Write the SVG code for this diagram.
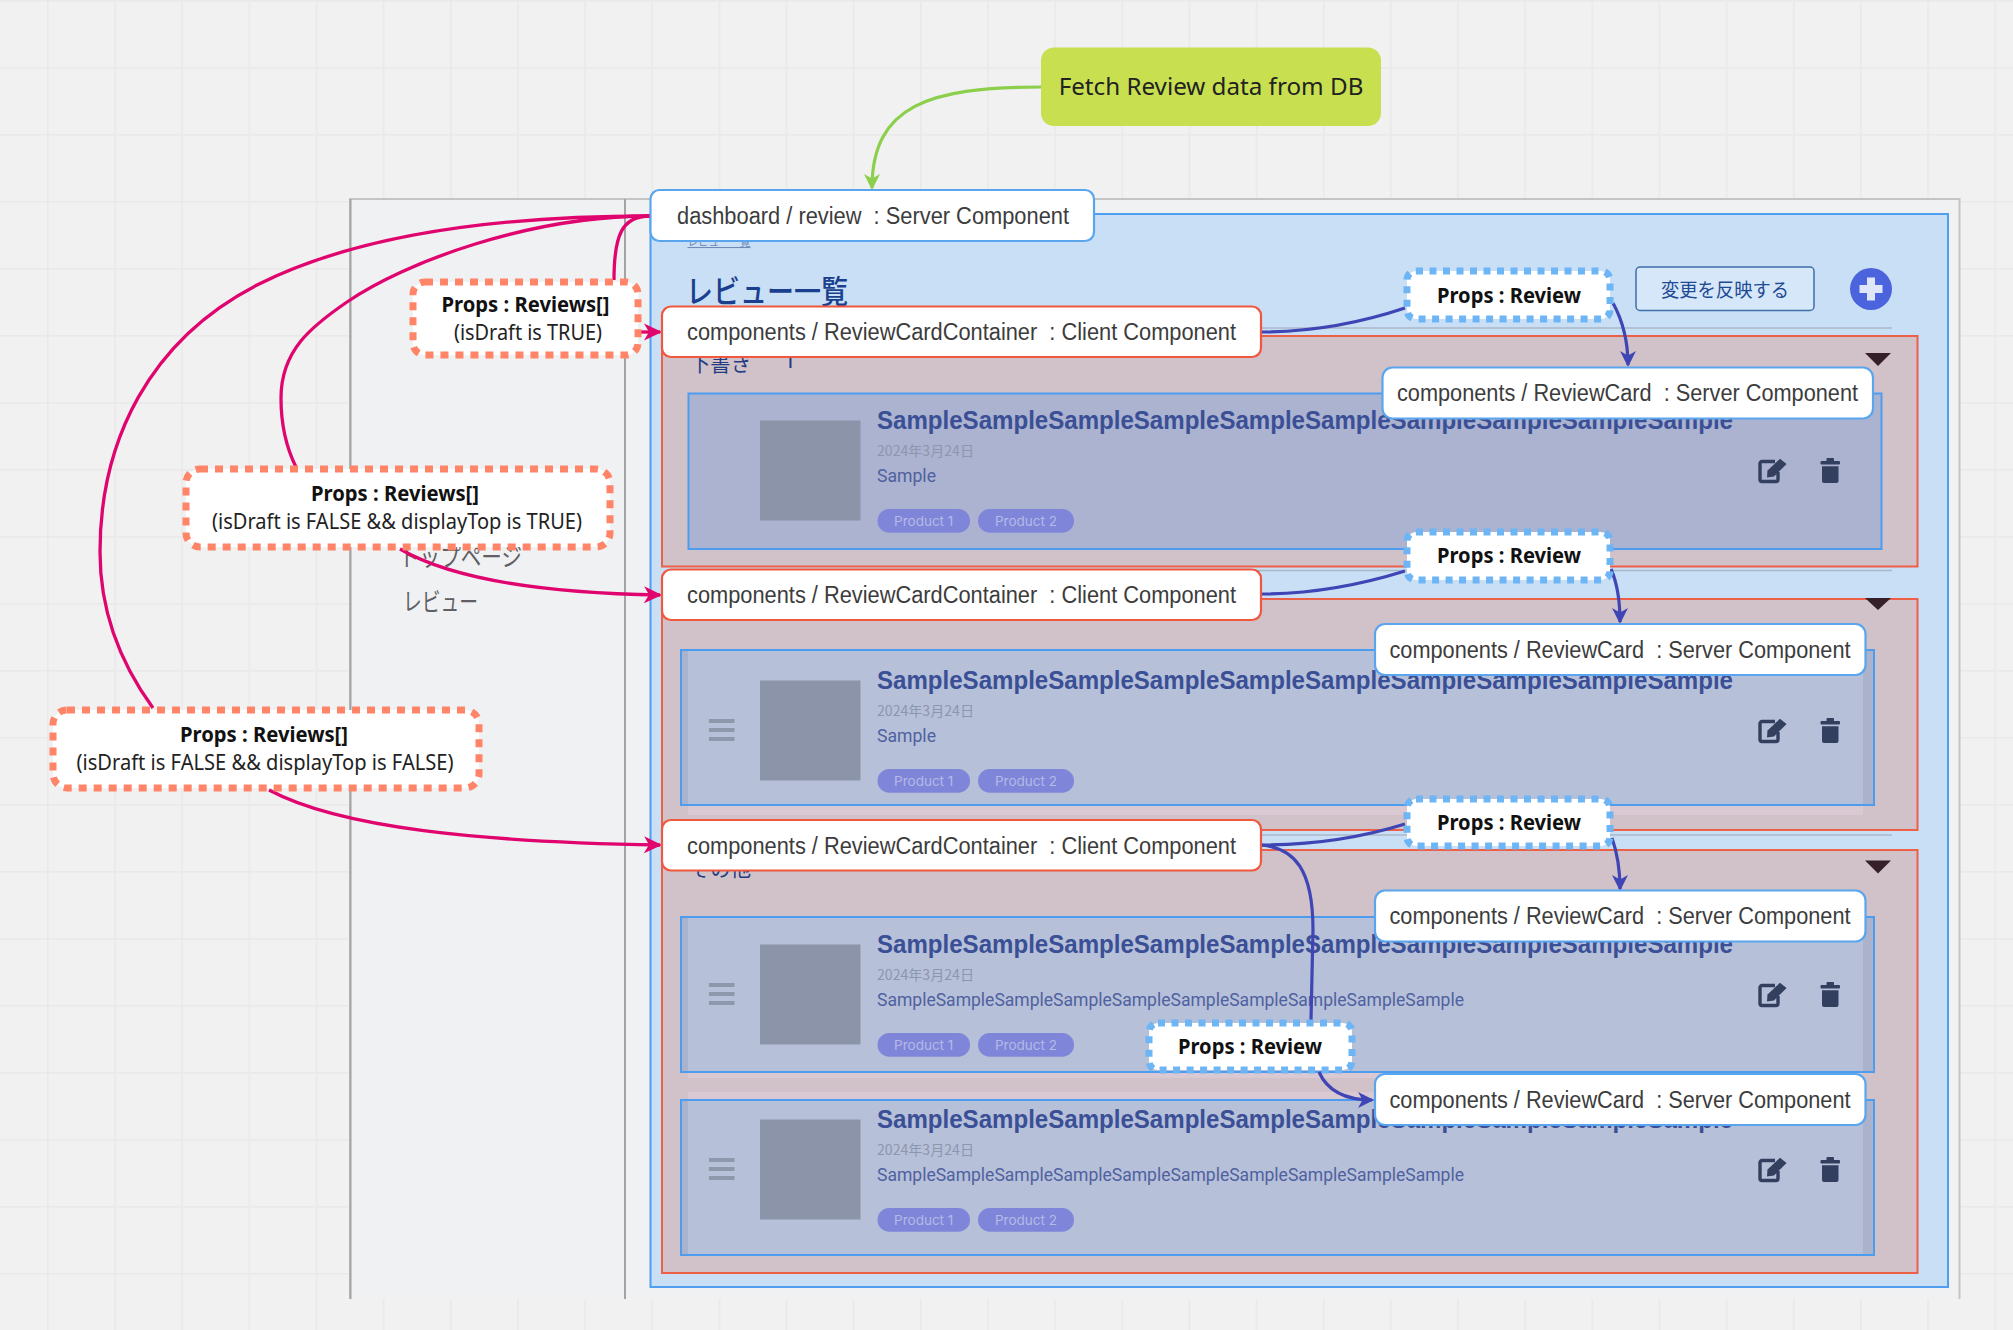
<svg xmlns="http://www.w3.org/2000/svg" width="2013" height="1330" viewBox="0 0 2013 1330">
<style>
text{white-space:pre}
.lab{font-family:"Liberation Sans",Arial,sans-serif;font-size:23px;fill:#3c3c3c;dominant-baseline:central}
.note{font-family:"Noto Sans",sans-serif;font-size:21px;fill:#222;text-anchor:middle}
.b{font-weight:700;fill:#111}
.jp{font-family:"Noto Sans CJK JP",sans-serif}
.sec{fill:#d1c1c9;stroke:#ee5f48;stroke-width:2}
.card{fill:#b6c0d9;stroke:#4c9df0;stroke-width:2}
.shadow{fill:#dac9d2}
.strip{fill:#aab3cb}
.thumb{fill:#8b94a8}
.title{font-family:"Liberation Sans",Arial,sans-serif;font-weight:700;font-size:25px;fill:#3a4f95}
.date{font-family:"Noto Sans CJK JP",sans-serif;font-size:14px;fill:#8d96ad}
.body{font-family:"Roboto",sans-serif;font-size:18px;fill:#5061a0}
.pill{fill:#7f86da}
.ptxt{font-family:"Inter",sans-serif;font-size:13.5px;fill:#b4b9e6;text-anchor:middle}
.ham{fill:#8e97ab}
.ico{fill:#333f5e}
.tri{fill:#35202a}
.box-b{fill:#fff;stroke:#5aa5ee;stroke-width:2.2}
.box-r{fill:#fff;stroke:#f0573c;stroke-width:2.2}
.dash-b{fill:#fff;stroke:#6db5f5;stroke-width:7;stroke-dasharray:7 6.5}
.dash-o{fill:#fff;stroke:#ff8468;stroke-width:7;stroke-dasharray:8 7}
.head{font-family:"Noto Sans CJK JP",sans-serif;fill:#1f3d80;font-size:22px}
.div{stroke:#aab8c8;stroke-width:1.5}
.pk{fill:none;stroke:#e0056e;stroke-width:3.3}
.bl{fill:none;stroke:#3f45b5;stroke-width:3.2}
.gr{fill:none;stroke:#8ccf4c;stroke-width:3.2}
</style>
<defs>
<pattern id="grid" patternUnits="userSpaceOnUse" x="47" y="0" width="67.15" height="67">
<rect x="0" y="0" width="1.6" height="67" fill="#e9e9ea"/>
<rect x="0" y="0" width="67.15" height="1.6" fill="#e9e9ea"/>
</pattern>
<marker id="ap" markerUnits="userSpaceOnUse" markerWidth="20" markerHeight="20" refX="16" refY="10" orient="auto"><path d="M0,1.5 L18,10 L0,18.5 L5,10Z" fill="#e0056e"/></marker>
<marker id="ab" markerUnits="userSpaceOnUse" markerWidth="20" markerHeight="20" refX="14" refY="10" orient="auto"><path d="M0,2 L16,10 L0,18 L4.5,10Z" fill="#3f45b5"/></marker>
<marker id="ag" markerUnits="userSpaceOnUse" markerWidth="20" markerHeight="20" refX="14" refY="10" orient="auto"><path d="M0,2 L16,10 L0,18 L4.5,10Z" fill="#8ccf4c"/></marker>
<g id="edit"><path d="M17 3.5H4a2 2 0 0 0-2 2V21.5a2 2 0 0 0 2 2H18a2 2 0 0 0 2-2V14" fill="none" stroke="#333f5e" stroke-width="3.4"/><path d="M9.5 12.5L22 0.8L28.6 6L16 18.5L9 19.6Z" fill="#333f5e"/></g>
<g id="trash"><rect x="0" y="3" width="19.5" height="3.6" rx="1" class="ico"/><rect x="6" y="0" width="7.5" height="4" rx="1" class="ico"/><path d="M1.5 8.2H18V23a2 2 0 0 1-2 2H3.5a2 2 0 0 1-2-2Z" class="ico"/></g>
<g id="burger"><rect x="709" y="719" width="25.5" height="4" class="ham"/><rect x="709" y="728" width="25.5" height="4" class="ham"/><rect x="709" y="737" width="25.5" height="4" class="ham"/></g>
</defs>

<rect width="2013" height="1330" fill="#f1f1f2"/>
<rect width="2013" height="1330" fill="url(#grid)"/>

<g id="frame">
<rect x="350" y="199" width="1609.5" height="1100" fill="#f0f1f3"/>
<path d="M350 1299V199H1959.5V1299" fill="none" stroke="#c4c4c4" stroke-width="2"/>
<path d="M350.5 199V1299M625 199V1299" fill="none" stroke="#a3a3a5" stroke-width="2"/>
<text x="399" y="566" class="jp" font-size="25" fill="#5f5f64" textLength="123" lengthAdjust="spacingAndGlyphs">トップページ</text>
<text x="403" y="611" class="jp" font-size="25" fill="#5f5f64" textLength="75" lengthAdjust="spacingAndGlyphs">レビュー</text>
</g>

<g id="page">
<rect x="650.5" y="214" width="1297.5" height="1073" fill="#c8dff5" stroke="#4f9ef0" stroke-width="2"/>
<text x="687.5" y="246" class="jp" font-size="10.5" fill="#6f8ab5" text-decoration="underline">レビュー一覧</text>
<text x="686" y="303" class="jp" font-size="32" font-weight="500" fill="#1a3f8f" textLength="162" lengthAdjust="spacingAndGlyphs">レビュー一覧</text>
<g id="apply-button">
<rect x="1636" y="267" width="178" height="43.5" rx="4" fill="#d5e7f8" stroke="#3e6fa8" stroke-width="1.5"/>
<text x="1725" y="297" class="jp" font-size="19" fill="#1f4a95" text-anchor="middle" textLength="128" lengthAdjust="spacingAndGlyphs">変更を反映する</text>
</g>
<g id="add-button">
<circle cx="1871" cy="289" r="21" fill="#4b63dc"/>
<path d="M1871 277.5V300.5M1859.5 289H1882.5" stroke="#dfe6fa" stroke-width="8" fill="none"/>
</g>
<path class="div" d="M680 328H1892M680 570.5H1892M680 835H1892"/>
</g>

<g id="section-draft">
<rect class="sec" x="662" y="336" width="1255.5" height="230.5"/>
<text x="690" y="371" class="head" textLength="61" lengthAdjust="spacingAndGlyphs">下書き</text>
<rect x="789.5" y="358" width="2" height="10" fill="#1f3d80"/>
<path class="tri" d="M1865 353H1891L1878 366Z"/>
</g>
<g id="section-top">
<rect class="sec" x="662" y="599" width="1255.5" height="231"/>
<path class="tri" d="M1865 598H1891L1878 610Z"/>
</g>
<g id="section-other">
<rect class="sec" x="662" y="850" width="1255.5" height="423"/>
<text x="690" y="876" class="head" textLength="61" lengthAdjust="spacingAndGlyphs">その他</text>
<path class="tri" d="M1865 860.5H1891L1878 873.5Z"/>
</g>

<g id="card-1">
<rect class="card" x="688.5" y="393.5" width="1193" height="155.5" style="fill:#abb3d0"/>
<g transform="translate(0,-260)">
<rect class="thumb" x="760" y="680.5" width="100.5" height="100"/>
<text class="title" x="877" y="688.5" textLength="856" lengthAdjust="spacingAndGlyphs">SampleSampleSampleSampleSampleSampleSampleSampleSampleSample</text>
<text class="date" x="877" y="716" textLength="97" lengthAdjust="spacingAndGlyphs">2024年3月24日</text>
<text class="body" x="877" y="741.5" textLength="59" lengthAdjust="spacingAndGlyphs">Sample</text>
<rect class="pill" x="877.5" y="769" width="92.5" height="23.7" rx="11.8"/><text class="ptxt" x="923.7" y="786">Product 1</text>
<rect class="pill" x="978" y="769" width="96" height="23.7" rx="11.8"/><text class="ptxt" x="1026" y="786">Product 2</text>
<use href="#edit" x="1758" y="718"/><use href="#trash" x="1820.5" y="718"/>
</g>
</g>

<g id="card-2">
<rect class="shadow" x="688" y="660" width="1175" height="155"/>
<rect class="card" x="681" y="650" width="1193" height="155"/>
<rect class="strip" x="682" y="651" width="6" height="153"/>
<rect class="strip" x="1863" y="651" width="10" height="153"/>
<g>
<use href="#burger"/>
<rect class="thumb" x="760" y="680.5" width="100.5" height="100"/>
<text class="title" x="877" y="688.5" textLength="856" lengthAdjust="spacingAndGlyphs">SampleSampleSampleSampleSampleSampleSampleSampleSampleSample</text>
<text class="date" x="877" y="716" textLength="97" lengthAdjust="spacingAndGlyphs">2024年3月24日</text>
<text class="body" x="877" y="741.5" textLength="59" lengthAdjust="spacingAndGlyphs">Sample</text>
<rect class="pill" x="877.5" y="769" width="92.5" height="23.7" rx="11.8"/><text class="ptxt" x="923.7" y="786">Product 1</text>
<rect class="pill" x="978" y="769" width="96" height="23.7" rx="11.8"/><text class="ptxt" x="1026" y="786">Product 2</text>
<use href="#edit" x="1758" y="718"/><use href="#trash" x="1820.5" y="718"/>
</g>
</g>

<g id="card-3">
<rect class="shadow" x="688" y="930" width="1175" height="148"/>
<rect class="card" x="681" y="917" width="1193" height="155"/>
<rect class="strip" x="682" y="918" width="6" height="153"/>
<rect class="strip" x="1863" y="918" width="10" height="153"/>
<g transform="translate(0,264)">
<use href="#burger"/>
<rect class="thumb" x="760" y="680.5" width="100.5" height="100"/>
<text class="title" x="877" y="688.5" textLength="856" lengthAdjust="spacingAndGlyphs">SampleSampleSampleSampleSampleSampleSampleSampleSampleSample</text>
<text class="date" x="877" y="716" textLength="97" lengthAdjust="spacingAndGlyphs">2024年3月24日</text>
<text class="body" x="877" y="741.5" textLength="587" lengthAdjust="spacingAndGlyphs">SampleSampleSampleSampleSampleSampleSampleSampleSampleSample</text>
<rect class="pill" x="877.5" y="769" width="92.5" height="23.7" rx="11.8"/><text class="ptxt" x="923.7" y="786">Product 1</text>
<rect class="pill" x="978" y="769" width="96" height="23.7" rx="11.8"/><text class="ptxt" x="1026" y="786">Product 2</text>
<use href="#edit" x="1758" y="718"/><use href="#trash" x="1820.5" y="718"/>
</g>
</g>

<g id="card-4">
<rect class="shadow" x="688" y="1092" width="1175" height="30"/>
<rect class="card" x="681" y="1100" width="1193" height="155"/>
<rect class="strip" x="682" y="1101" width="6" height="153"/>
<rect class="strip" x="1863" y="1101" width="10" height="153"/>
<g transform="translate(0,439)">
<use href="#burger"/>
<rect class="thumb" x="760" y="680.5" width="100.5" height="100"/>
<text class="title" x="877" y="688.5" textLength="856" lengthAdjust="spacingAndGlyphs">SampleSampleSampleSampleSampleSampleSampleSampleSampleSample</text>
<text class="date" x="877" y="716" textLength="97" lengthAdjust="spacingAndGlyphs">2024年3月24日</text>
<text class="body" x="877" y="741.5" textLength="587" lengthAdjust="spacingAndGlyphs">SampleSampleSampleSampleSampleSampleSampleSampleSampleSample</text>
<rect class="pill" x="877.5" y="769" width="92.5" height="23.7" rx="11.8"/><text class="ptxt" x="923.7" y="786">Product 1</text>
<rect class="pill" x="978" y="769" width="96" height="23.7" rx="11.8"/><text class="ptxt" x="1026" y="786">Product 2</text>
<use href="#edit" x="1758" y="718"/><use href="#trash" x="1820.5" y="718"/>
</g>
</g>

<g id="connectors">
<path class="gr" marker-end="url(#ag)" d="M1041 87C930 87 872 105 872 188"/>
<path class="pk" d="M650 216C622 216 614 235 614 280"/>
<path class="pk" d="M296 467C285 445 281 420 281 398C281 350 312 326 347 302C405 262 530 216 650 216"/>
<path class="pk" d="M153 708C118 660 100 610 100 552C100 440 150 340 257 285C350 238 480 216 650 216"/>
<path class="pk" marker-end="url(#ap)" d="M639 332H660"/>
<path class="pk" marker-end="url(#ap)" d="M400 549C450 578 540 593 660 595"/>
<path class="pk" marker-end="url(#ap)" d="M269 790C340 828 480 842 660 845"/>
<path class="bl" d="M1261 332C1310 332 1360 323 1405 308"/>
<path class="bl" marker-end="url(#ab)" d="M1613 303C1625 325 1628 345 1628 365"/>
<path class="bl" d="M1261 594C1310 594 1360 585 1405 571"/>
<path class="bl" marker-end="url(#ab)" d="M1611 569C1618 585 1620 605 1620 622"/>
<path class="bl" d="M1261 845C1310 845 1360 838 1405 824"/>
<path class="bl" marker-end="url(#ab)" d="M1612 838C1618 855 1620 872 1620 889"/>
<path class="bl" d="M1261 845C1295 848 1313 870 1313 930L1311 1020"/>
<path class="bl" marker-end="url(#ab)" d="M1319 1072C1327 1090 1345 1100 1372 1100"/>
</g>

<g id="fetch-note">
<rect x="1041" y="47.5" width="340" height="78.5" rx="13" fill="#c8e050"/>
<text x="1211" y="95" class="note" style="font-size:24.2px">Fetch Review data from DB</text>
</g>
<g id="review-server">
<rect class="box-b" x="650.5" y="190" width="443.5" height="51" rx="9"/>
<text class="lab" x="677" y="216" textLength="392" lengthAdjust="spacingAndGlyphs">dashboard / review  : Server Component</text>
</g>
<g id="container-1">
<rect class="box-r" x="662" y="306.5" width="599" height="50.5" rx="9"/>
<text class="lab" x="687" y="332" textLength="549" lengthAdjust="spacingAndGlyphs">components / ReviewCardContainer  : Client Component</text>
</g>
<g id="container-2">
<rect class="box-r" x="662" y="569.5" width="599" height="50.5" rx="9"/>
<text class="lab" x="687" y="595" textLength="549" lengthAdjust="spacingAndGlyphs">components / ReviewCardContainer  : Client Component</text>
</g>
<g id="container-3">
<rect class="box-r" x="662" y="820" width="599" height="50.5" rx="9"/>
<text class="lab" x="687" y="845.5" textLength="549" lengthAdjust="spacingAndGlyphs">components / ReviewCardContainer  : Client Component</text>
</g>
<g id="reviewcard-1">
<rect class="box-b" x="1382.5" y="367.5" width="490.5" height="51" rx="10"/>
<text class="lab" x="1397" y="393" textLength="461" lengthAdjust="spacingAndGlyphs">components / ReviewCard  : Server Component</text>
</g>
<g id="reviewcard-2">
<rect class="box-b" x="1375" y="624" width="490.5" height="51" rx="10"/>
<text class="lab" x="1389.5" y="649.5" textLength="461" lengthAdjust="spacingAndGlyphs">components / ReviewCard  : Server Component</text>
</g>
<g id="reviewcard-3">
<rect class="box-b" x="1375" y="890.5" width="490.5" height="51" rx="10"/>
<text class="lab" x="1389.5" y="916" textLength="461" lengthAdjust="spacingAndGlyphs">components / ReviewCard  : Server Component</text>
</g>
<g id="reviewcard-4">
<rect class="box-b" x="1375" y="1074" width="490.5" height="51" rx="10"/>
<text class="lab" x="1389.5" y="1099.5" textLength="461" lengthAdjust="spacingAndGlyphs">components / ReviewCard  : Server Component</text>
</g>
<g id="props-review-1">
<rect class="dash-b" x="1407" y="271" width="203" height="48" rx="9"/>
<text class="note b" x="1509" y="303" textLength="144" lengthAdjust="spacingAndGlyphs">Props : Review</text>
</g>
<g id="props-review-2">
<rect class="dash-b" x="1407" y="532" width="203" height="48" rx="9"/>
<text class="note b" x="1509" y="563" textLength="144" lengthAdjust="spacingAndGlyphs">Props : Review</text>
</g>
<g id="props-review-3">
<rect class="dash-b" x="1407" y="799" width="203" height="47" rx="9"/>
<text class="note b" x="1509" y="830" textLength="144" lengthAdjust="spacingAndGlyphs">Props : Review</text>
</g>
<g id="props-review-4">
<rect class="dash-b" x="1149" y="1023" width="203" height="47" rx="9"/>
<text class="note b" x="1250" y="1054" textLength="144" lengthAdjust="spacingAndGlyphs">Props : Review</text>
</g>
<g id="props-reviews-draft">
<rect class="dash-o" x="413" y="282" width="225" height="73" rx="12"/>
<text class="note b" x="525.5" y="312" textLength="168" lengthAdjust="spacingAndGlyphs">Props : Reviews[]</text>
<text class="note" x="528" y="340" textLength="148" lengthAdjust="spacingAndGlyphs">(isDraft is TRUE)</text>
</g>
<g id="props-reviews-top">
<rect class="dash-o" x="186" y="469" width="424" height="78" rx="14"/>
<text class="note b" x="395" y="501" textLength="168" lengthAdjust="spacingAndGlyphs">Props : Reviews[]</text>
<text class="note" x="397" y="529" textLength="370" lengthAdjust="spacingAndGlyphs">(isDraft is FALSE &amp;&amp; displayTop is TRUE)</text>
</g>
<g id="props-reviews-other">
<rect class="dash-o" x="53" y="710" width="426" height="78" rx="14"/>
<text class="note b" x="264" y="742" textLength="168" lengthAdjust="spacingAndGlyphs">Props : Reviews[]</text>
<text class="note" x="265" y="770" textLength="377" lengthAdjust="spacingAndGlyphs">(isDraft is FALSE &amp;&amp; displayTop is FALSE)</text>
</g>
</svg>
